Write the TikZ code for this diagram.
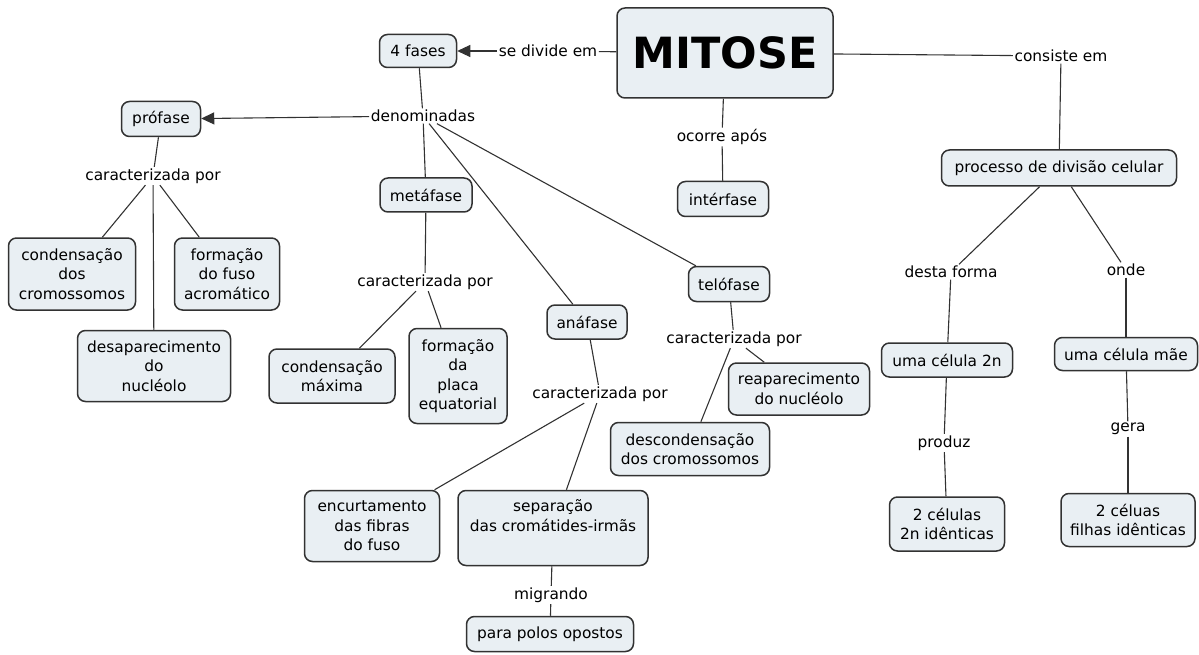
\documentclass[tikz,border=0pt]{standalone}
\usepackage{fontspec}
\setmainfont{DejaVu Sans}
\usetikzlibrary{arrows.meta}
\definecolor{boxfill}{RGB}{233,239,243}
\definecolor{edge}{RGB}{50,50,50}
\tikzset{
  box/.style={draw=edge, line width=1.5pt, fill=boxfill, rounded corners=8pt,
    align=center, inner sep=0pt, font=\fontsize{15.4}{19.5}\selectfont},
  lbl/.style={fill=white, inner sep=1.5pt, font=\fontsize{15.4}{19.5}\selectfont},
  link/.style={draw=edge, line width=1.1pt},
  arr/.style={link, -{Triangle[length=13pt,width=12pt]}},
}
\begin{document}
\begin{tikzpicture}[x=1pt,y=-1pt]
\useasboundingbox (0,0) rectangle (1199,655);

% concept boxes
\node[box, minimum width=216, minimum height=90, font=\fontsize{43}{50}\bfseries] (mit) at (725,53) {MITOSE};
\node[box, minimum width=77, minimum height=33] (fases) at (418,51) {4 fases};
\node[box, minimum width=91, minimum height=35] (inter) at (723,199) {intérfase};
\node[box, minimum width=235, minimum height=36] (proc) at (1059,168) {processo de divisão celular};
\node[box, minimum width=131, minimum height=34] (c2n) at (947,360) {uma célula 2n};
\node[box, minimum width=115, minimum height=54] (duas) at (947,524) {2 células\\2n idênticas};
\node[box, minimum width=143, minimum height=33] (mae) at (1126,354) {uma célula mãe};
\node[box, minimum width=134, minimum height=53] (filhas) at (1128,520) {2 céluas\\filhas idênticas};

\node[box, minimum width=79, minimum height=35] (pro) at (161,119) {prófase};
\node[box, minimum width=127, minimum height=72] (pcond) at (72,274) {condensação\\dos\\cromossomos};
\node[box, minimum width=105, minimum height=72] (pfuso) at (227,274) {formação\\do fuso\\acromático};
\node[box, minimum width=153, minimum height=71] (pdes) at (154,366) {desaparecimento\\do\\nucléolo};

\node[box, minimum width=92, minimum height=34] (meta) at (426,195) {metáfase};
\node[box, minimum width=126, minimum height=54] (mcond) at (332,376) {condensação\\máxima};
\node[box, minimum width=98, minimum height=95] (mplaca) at (458,376) {formação\\da\\placa\\equatorial};

\node[box, minimum width=80, minimum height=34] (ana) at (587,322) {anáfase};
\node[box, minimum width=135, minimum height=71] (aenc) at (372,526) {encurtamento\\das fibras\\do fuso};
\node[box, minimum width=190, minimum height=75] (asep) at (553,528) {separação\\das cromátides-irmãs\\\strut};
\node[box, minimum width=167, minimum height=35] (apol) at (550,634) {para polos opostos};

\node[box, minimum width=81, minimum height=35] (telo) at (729,284) {telófase};
\node[box, minimum width=141, minimum height=52] (trea) at (799,389) {reaparecimento\\do nucléolo};
\node[box, minimum width=159, minimum height=53] (tdes) at (690,449) {descondensação\\dos cromossomos};

% linking phrases
\node[lbl] (ldiv) at (548,51) {se divide em};
\node[lbl] (lcons) at (1061,56) {consiste em};
\node[lbl] (locor) at (722,137) {ocorre após};
\node[lbl] (lden) at (423,116) {denominadas};
\node[lbl] (ldesta) at (951,272) {desta forma};
\node[lbl] (lprod) at (944,443) {produz};
\node[lbl] (londe) at (1126,270) {onde};
\node[lbl] (lgera) at (1128,429) {gera};
\node[lbl] (lpro) at (153,176) {caracterizada por};
\node[lbl] (lmeta) at (425,282) {caracterizada por};
\node[lbl] (lana) at (600,394) {caracterizada por};
\node[lbl] (lmig) at (551,595) {migrando};
\node[lbl] (ltelo) at (734,339) {caracterizada por};

% connectors
\draw[link] (mit) -- (ldiv);
\draw[arr] (ldiv) -- (fases);
\draw[link] (mit) -- (lcons);
\draw[link] (lcons) -- (proc);
\draw[link] (mit) -- (locor);
\draw[link] (locor) -- (inter);

\draw[link] (proc) -- (ldesta);
\draw[link] (ldesta) -- (c2n);
\draw[link] (c2n) -- (lprod);
\draw[link] (lprod) -- (duas);
\draw[link] (proc) -- (londe);
\draw[link] (londe) -- (mae);
\draw[link] (mae) -- (lgera);
\draw[link] (lgera) -- (filhas);

\draw[link] (fases) -- (lden);
\draw[arr] (lden) -- (pro);
\draw[link] (lden) -- (meta);
\draw[link] (lden) -- (ana);
\draw[link] (lden) -- (telo);

\draw[link] (pro) -- (lpro);
\draw[link] (lpro) -- (pcond);
\draw[link] (lpro) -- (pfuso);
\draw[link] (lpro) -- (pdes);

\draw[link] (meta) -- (lmeta);
\draw[link] (lmeta) -- (mcond);
\draw[link] (lmeta) -- (mplaca);

\draw[link] (ana) -- (lana);
\draw[link] (lana) -- (aenc);
\draw[link] (lana) -- (asep);
\draw[link] (asep) -- (lmig);
\draw[link] (lmig) -- (apol);

\draw[link] (telo) -- (ltelo);
\draw[link] (ltelo) -- (trea);
\draw[link] (ltelo) -- (tdes);
\end{tikzpicture}
\end{document}
